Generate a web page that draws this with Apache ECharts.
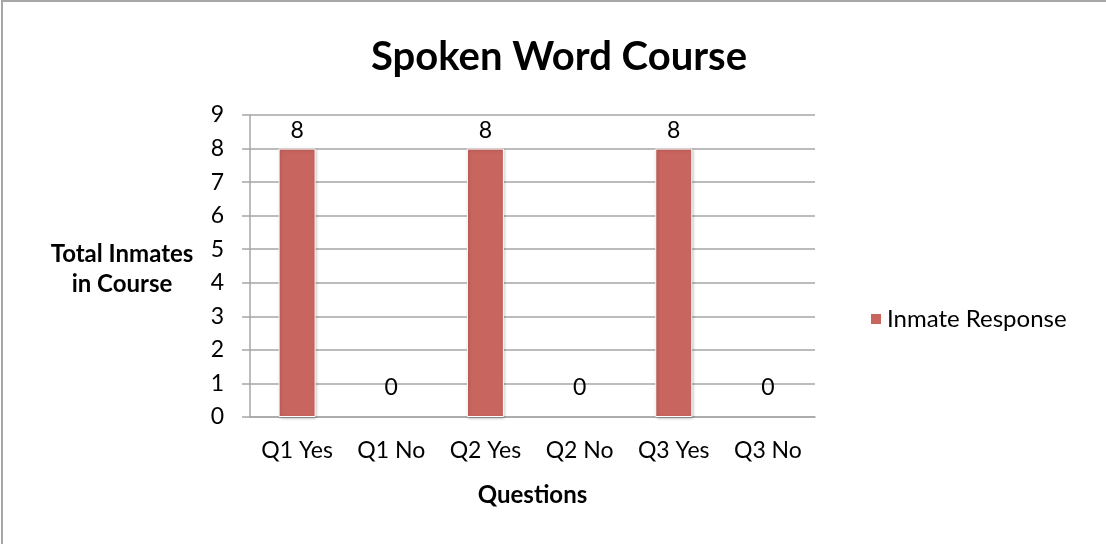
<!DOCTYPE html>
<html>
<head>
<meta charset="utf-8">
<script src="https://cdn.jsdelivr.net/npm/echarts@6/dist/echarts.min.js"></script>
<style>
  html, body { margin: 0; padding: 0; background: #fff; }
  #frame {
    position: absolute; left: 1px; top: 0;
    width: 1105px; height: 544px;
    border-left: 2px solid #a6a6a6;
    border-top: 2px solid #a6a6a6;
    box-sizing: border-box;
  }
  #chart { position: absolute; left: 0; top: 0; width: 1106px; height: 544px; }
</style>
</head>
<body>
<div id="frame"></div>
<div id="chart"></div>
<script>
const categories = ['Q1 Yes', 'Q1 No', 'Q2 Yes', 'Q2 No', 'Q3 Yes', 'Q3 No']
const responses = [8, 0, 8, 0, 8, 0]
const yTicks = [0, 1, 2, 3, 4, 5, 6, 7, 8, 9]

const font = 'Lato'
const gray = '#a6a6a6'

const chart = echarts.init(document.getElementById('chart'), null, { renderer: 'canvas' })

chart.setOption({
  animation: false,
  textStyle: { fontFamily: font },
  title: {
    text: 'Spoken Word Course',
    left: 554,
    top: 32,
    textAlign: 'center',
    textStyle: { fontSize: 40, fontWeight: 'bold', color: '#000', fontFamily: font }
  },
  legend: {
    left: 864,
    top: 302,
    itemWidth: 12,
    itemHeight: 12,
    itemGap: 7,
    icon: 'rect',
    textStyle: { fontSize: 24, color: '#000', fontFamily: font },
    data: ['Inmate Response']
  },
  grid: { left: 250, right: 291, top: 115, bottom: 127 },
  xAxis: {
    type: 'category',
    data: categories,
    name: 'Questions',
    nameLocation: 'middle',
    nameGap: 66,
    nameTextStyle: { fontSize: 24, fontWeight: 'bold', color: '#000', fontFamily: font },
    axisLine: { lineStyle: { color: gray, width: 1.5 } },
    axisTick: { length: 8, lineStyle: { color: gray, width: 1.5 } },
    axisLabel: { fontSize: 23, color: '#000', margin: 22, fontFamily: font }
  },
  yAxis: {
    type: 'value',
    min: yTicks[0],
    max: yTicks[yTicks.length - 1],
    interval: 1,
    axisLine: { show: true, lineStyle: { color: gray, width: 1.5 } },
    axisTick: { show: true, length: 8, lineStyle: { color: gray, width: 1.5 } },
    axisLabel: { fontSize: 23, color: '#000', margin: 26, fontFamily: font },
    splitLine: { lineStyle: { color: gray, width: 1.5 } }
  },
  graphic: [{
    type: 'text',
    x: 122,
    y: 269,
    style: {
      text: 'Total Inmates\nin Course',
      textAlign: 'center',
      textVerticalAlign: 'middle',
      fontFamily: font,
      fontSize: 24,
      fontWeight: 'bold',
      lineHeight: 30,
      fill: '#000'
    }
  }],
  series: [{
    name: 'Inmate Response',
    type: 'bar',
    barWidth: 37,
    itemStyle: {
      color: '#c9655f',
      borderColor: '#ffffff',
      borderWidth: 1,
      shadowColor: 'rgba(0,0,0,0.25)',
      shadowBlur: 3,
      shadowOffsetX: 1,
      shadowOffsetY: 1
    },
    label: {
      show: true,
      position: 'top',
      fontSize: 23,
      color: '#000',
      fontFamily: font
    },
    data: responses.map(v => v === 0
      ? { value: v, itemStyle: { borderWidth: 0, shadowBlur: 0, shadowOffsetX: 0, shadowOffsetY: 0, shadowColor: 'transparent' }, label: { distance: 18 } }
      : { value: v, label: { distance: 6 } })
  }]
})
</script>
</body>
</html>
